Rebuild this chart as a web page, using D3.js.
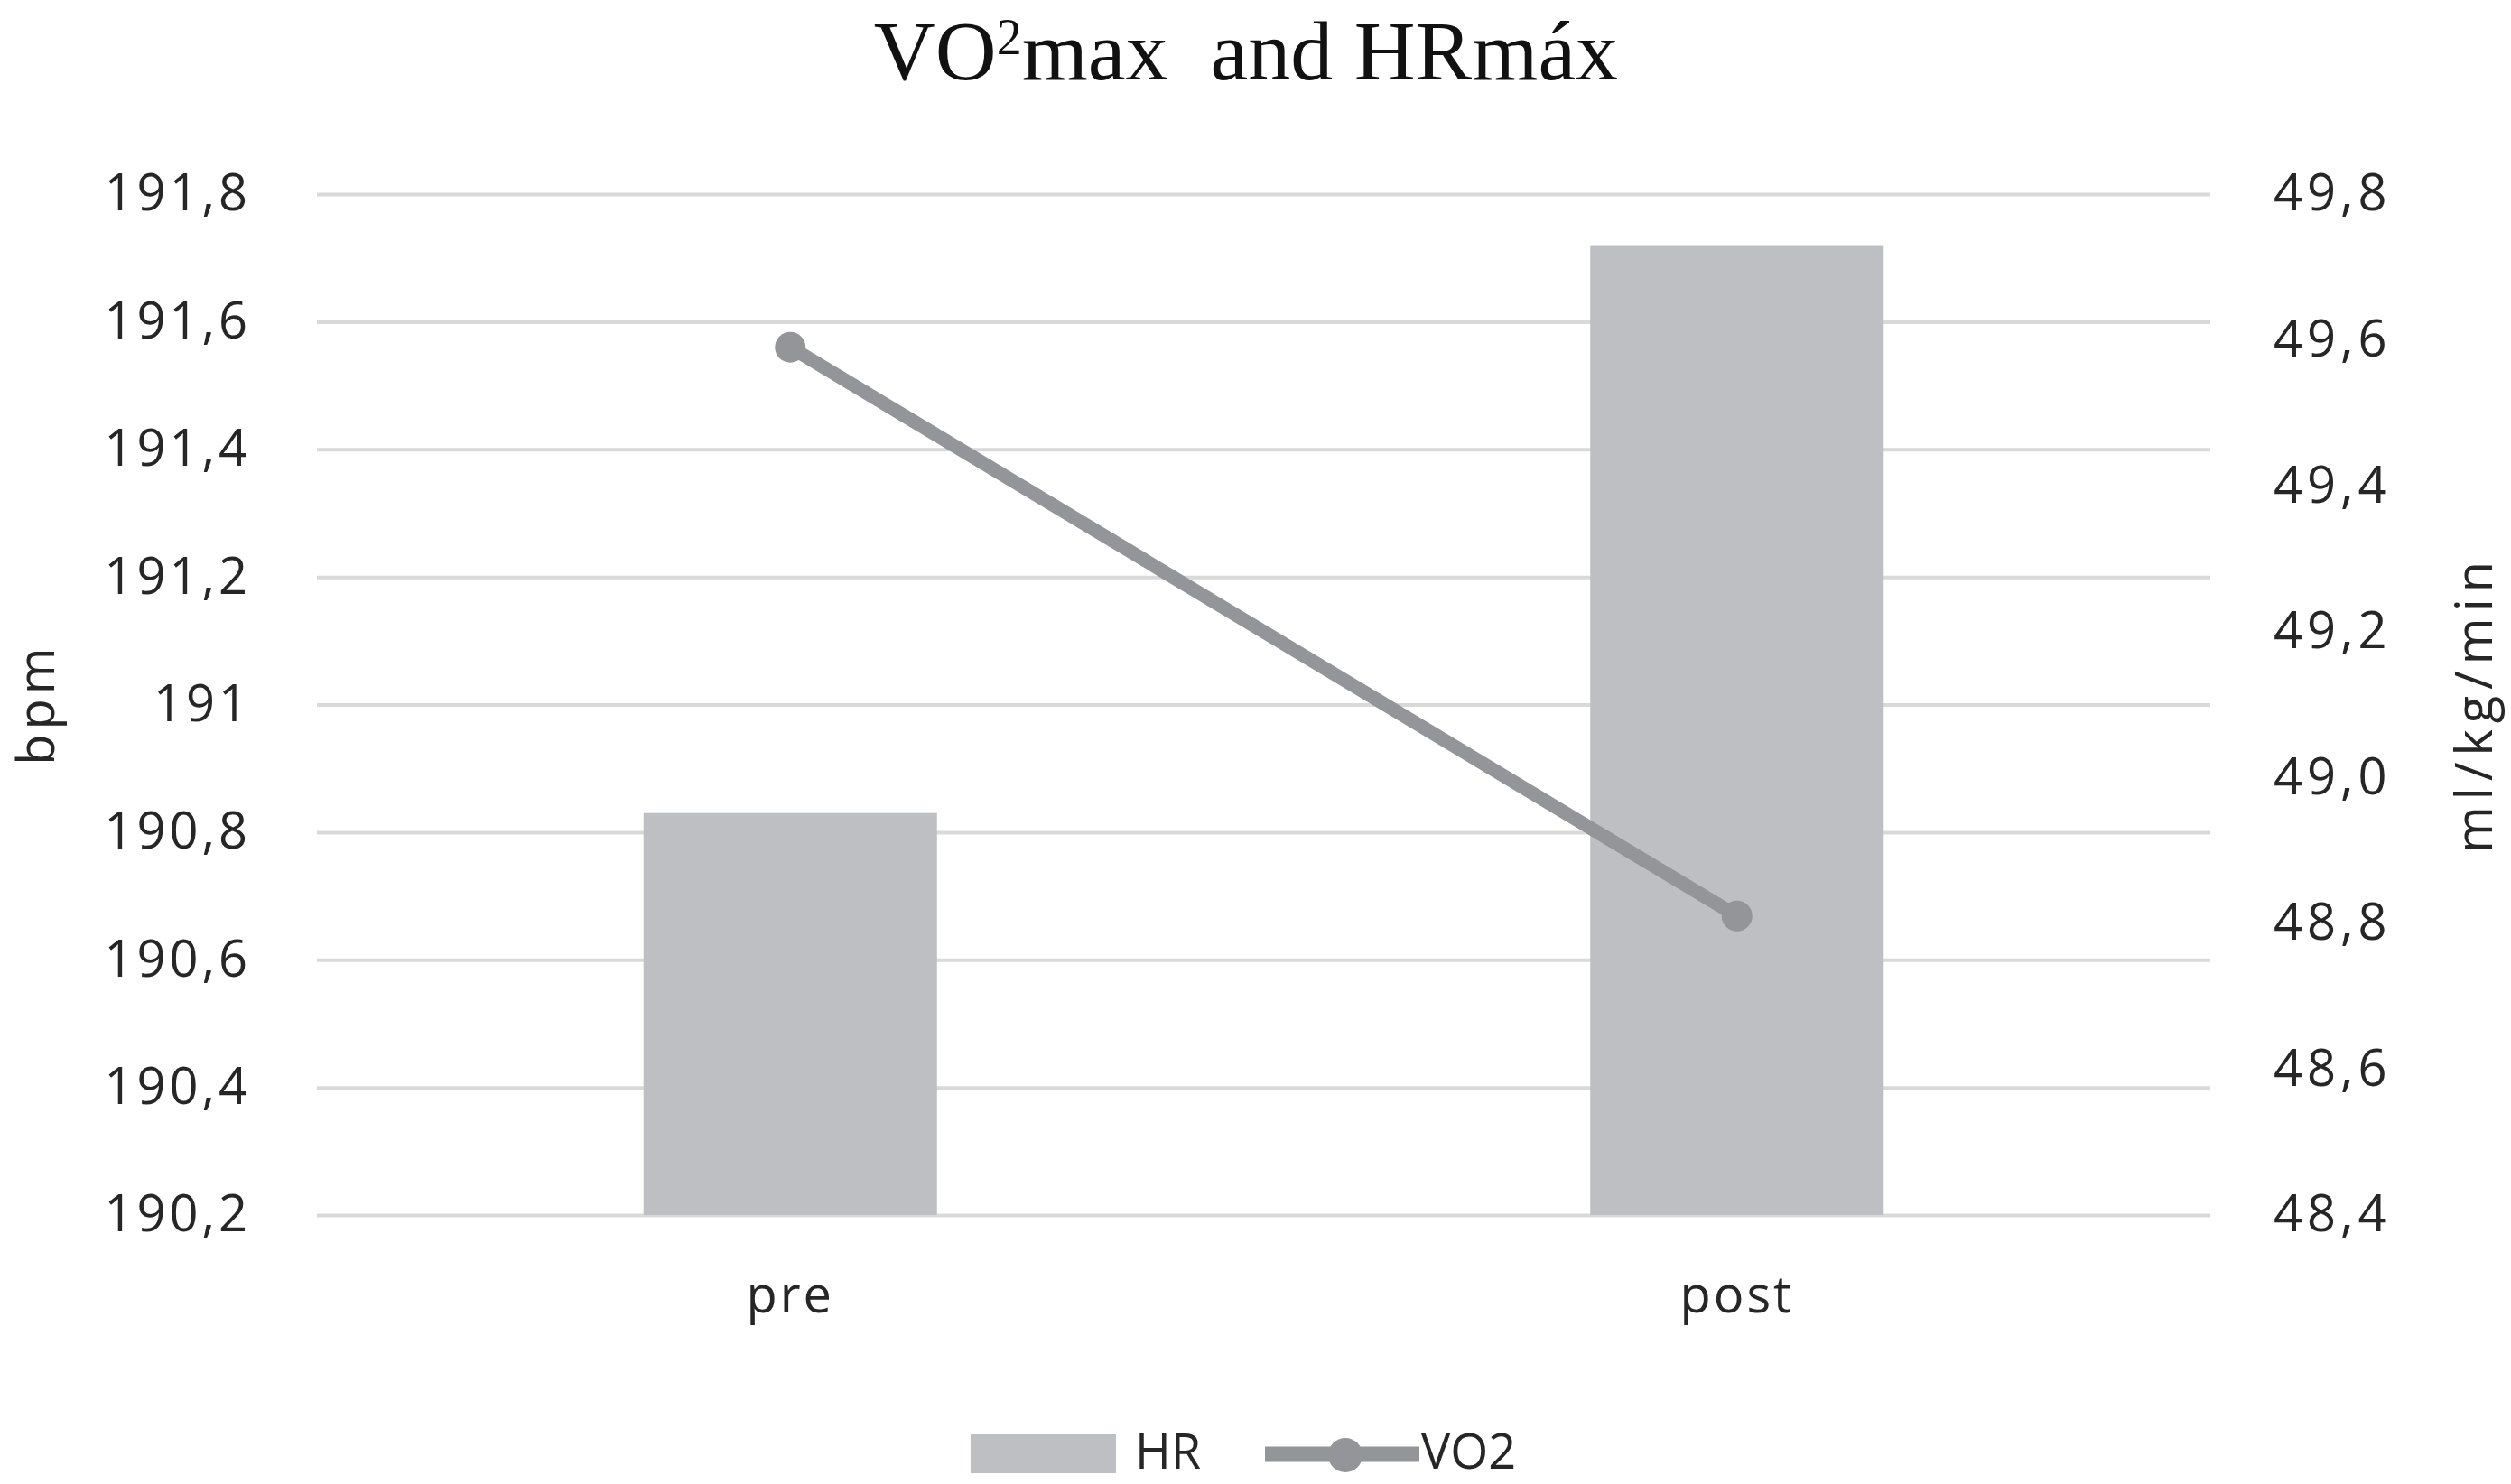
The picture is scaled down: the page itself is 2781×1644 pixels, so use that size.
<!DOCTYPE html>
<html>
<head>
<meta charset="utf-8">
<script src="https://cdn.jsdelivr.net/npm/d3@7"></script>
<style>
body { margin: 0; background: #fff; }
svg text { font-family: "Open Sans", "DejaVu Sans", sans-serif; fill: #262626; }
</style>
</head>
<body>
<svg id="chart"></svg>
<script>
// values
var categories = ["pre", "post"]
var hrValues = [190.83, 191.72]
var vo2Values = [49.59, 48.81]
var leftTicks = [190.2, 190.4, 190.6, 190.8, 191, 191.2, 191.4, 191.6, 191.8]
var leftTickLabels = ["190,2", "190,4", "190,6", "190,8", "191", "191,2", "191,4", "191,6", "191,8"]
var rightTicks = [48.4, 48.6, 48.8, 49.0, 49.2, 49.4, 49.6, 49.8]
var rightTickLabels = ["48,4", "48,6", "48,8", "49,0", "49,2", "49,4", "49,6", "49,8"]

var screen = {width: 2781, height: 1644}
var margins = {top: 215, right: 333, bottom: 298, left: 351}
var width = screen.width - margins.left - margins.right
var height = screen.height - margins.top - margins.bottom

var svg = d3.select("#chart")
    .attr("width", screen.width)
    .attr("height", screen.height)

var graph = svg.append("g")
    .attr("transform", "translate(" + margins.left + "," + margins.top + ")")

var xScale = d3.scaleBand()
    .domain(categories)
    .range([0, width])
var yScale = d3.scaleLinear()
    .domain([190.2, 191.8])
    .range([height, 0])
var yScale2 = d3.scaleLinear()
    .domain([48.4, 49.8])
    .range([height, 0])

var barColor = "#bebfc2"
var lineColor = "#939598"

// gridlines
graph.append("g")
    .attr("class", "grid")
    .call(d3.axisLeft(yScale).tickValues(leftTicks).tickSize(-width).tickFormat(""))
    .call(function(g){ g.select(".domain").remove() })
    .selectAll("line")
    .attr("stroke", "#d9d9d9")
    .attr("stroke-width", 4)

// left axis
var leftAxis = graph.append("g")
    .call(d3.axisLeft(yScale).tickValues(leftTicks).tickSize(0).tickPadding(73)
        .tickFormat(function(d, i){ return leftTickLabels[i] }))
leftAxis.select(".domain").remove()
leftAxis.selectAll("text")
    .attr("font-size", 56)
    .attr("letter-spacing", 4)
    .attr("font-family", "Open Sans")
    .attr("fill", "#262626")

// right axis
var rightAxis = graph.append("g")
    .attr("transform", "translate(" + width + ",0)")
    .call(d3.axisRight(yScale2).tickValues(rightTicks).tickSize(0).tickPadding(70)
        .tickFormat(function(d, i){ return rightTickLabels[i] }))
rightAxis.select(".domain").remove()
rightAxis.selectAll("text")
    .attr("font-size", 56)
    .attr("letter-spacing", 5)
    .attr("font-family", "Open Sans")
    .attr("fill", "#262626")

// x axis
var xAxis = graph.append("g")
    .attr("transform", "translate(0," + height + ")")
    .call(d3.axisBottom(xScale).tickSize(0).tickPadding(68))
xAxis.select(".domain").remove()
xAxis.selectAll("text")
    .attr("font-size", 56)
    .attr("letter-spacing", 3)
    .attr("font-family", "Open Sans")
    .attr("fill", "#262626")

// bars (HR)
var barWidth = xScale.bandwidth() * 0.31
graph.selectAll("rect.bar")
    .data(hrValues)
    .enter()
    .append("rect")
    .attr("class", "bar")
    .attr("x", function(d, i){ return xScale(categories[i]) + xScale.bandwidth() / 2 - barWidth / 2 })
    .attr("y", function(d){ return yScale(d) })
    .attr("width", barWidth)
    .attr("height", function(d){ return height - yScale(d) })
    .attr("fill", barColor)

// VO2 line
var line = d3.line()
    .x(function(d, i){ return xScale(categories[i]) + xScale.bandwidth() / 2 })
    .y(function(d){ return yScale2(d) })

graph.append("path")
    .datum(vo2Values)
    .attr("d", line)
    .attr("fill", "none")
    .attr("stroke", lineColor)
    .attr("stroke-width", 15)

graph.selectAll("circle.pt")
    .data(vo2Values)
    .enter()
    .append("circle")
    .attr("class", "pt")
    .attr("cx", function(d, i){ return xScale(categories[i]) + xScale.bandwidth() / 2 })
    .attr("cy", function(d){ return yScale2(d) })
    .attr("r", 17)
    .attr("fill", lineColor)

// title
var title = svg.append("text")
    .attr("x", 1380)
    .attr("y", 88)
    .attr("text-anchor", "middle")
    .attr("font-size", 94)
    .style("font-family", "'Liberation Serif', serif")
    .style("fill", "#111")
title.append("tspan").text("VO")
title.append("tspan").attr("dy", -28).attr("font-size", 56).text("2")
title.append("tspan").attr("dy", 28).text("max\u00a0 and HRmáx")

// axis titles
svg.append("text")
    .text("bpm")
    .attr("transform", "translate(60,780) rotate(-90)")
    .attr("text-anchor", "middle")
    .attr("font-size", 56)
    .attr("letter-spacing", 5)

svg.append("text")
    .text("ml/kg/min")
    .attr("transform", "translate(2760,780) rotate(-90)")
    .attr("text-anchor", "middle")
    .attr("font-size", 56)
    .attr("letter-spacing", 7)

// legend
var legend = svg.append("g").attr("id", "legend")
legend.append("rect")
    .attr("x", 1075).attr("y", 1589)
    .attr("width", 161).attr("height", 43)
    .attr("fill", barColor)
legend.append("text")
    .attr("x", 1257).attr("y", 1627)
    .attr("font-size", 54)
    .text("HR")
legend.append("line")
    .attr("x1", 1401).attr("x2", 1572)
    .attr("y1", 1611).attr("y2", 1611)
    .attr("stroke", lineColor)
    .attr("stroke-width", 17)
legend.append("circle")
    .attr("cx", 1490).attr("cy", 1612)
    .attr("r", 19)
    .attr("fill", lineColor)
legend.append("text")
    .attr("x", 1574).attr("y", 1627)
    .attr("font-size", 54)
    .text("VO2")
</script>
</body>
</html>
